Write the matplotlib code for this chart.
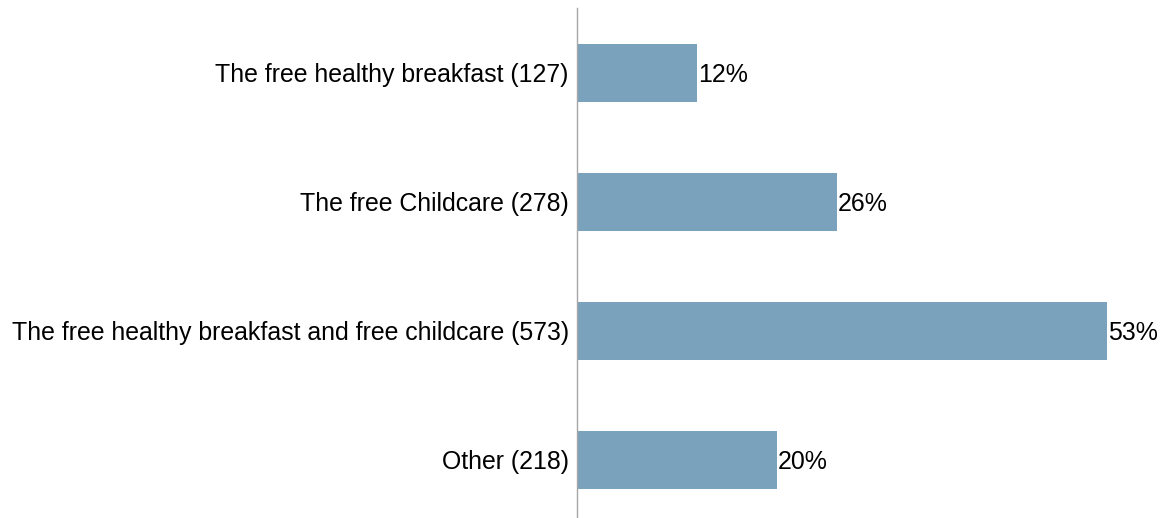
import matplotlib
matplotlib.use("Agg")
import matplotlib.pyplot as plt

# survey answers, share of respondents
categories = [
    "The free healthy breakfast (127)",
    "The free Childcare (278)",
    "The free healthy breakfast and free childcare (573)",
    "Other (218)",
]
percentages = [12, 26, 53, 20]

plt.rcParams['font.family'] = ['Liberation Sans', 'DejaVu Sans']

fig = plt.figure(figsize=(11.7, 5.18), dpi=100)
ax = fig.add_axes([577 / 1170, 0, 593 / 1170, 510 / 518])

ypos = list(range(len(categories)))
ax.barh(ypos, percentages, height=0.45, color="#7BA2BD")
for y, v in zip(ypos, percentages):
    ax.text(v + 0.1, y, f"{v}%", va="center_baseline", ha="left", fontsize=17.9)

ax.set_xlim(0, 59.3)
ax.set_ylim(3.45, -0.5)
ax.set_yticks(ypos)
ax.set_yticklabels(categories, fontsize=17.9, va="center_baseline")
ax.tick_params(axis="y", length=0, pad=6)
ax.set_xticks([])
for side in ["top", "right", "bottom"]:
    ax.spines[side].set_visible(False)
ax.spines["left"].set_color("#A6A6A6")
ax.spines["left"].set_linewidth(1)

fig.savefig("out.png", dpi=100)
